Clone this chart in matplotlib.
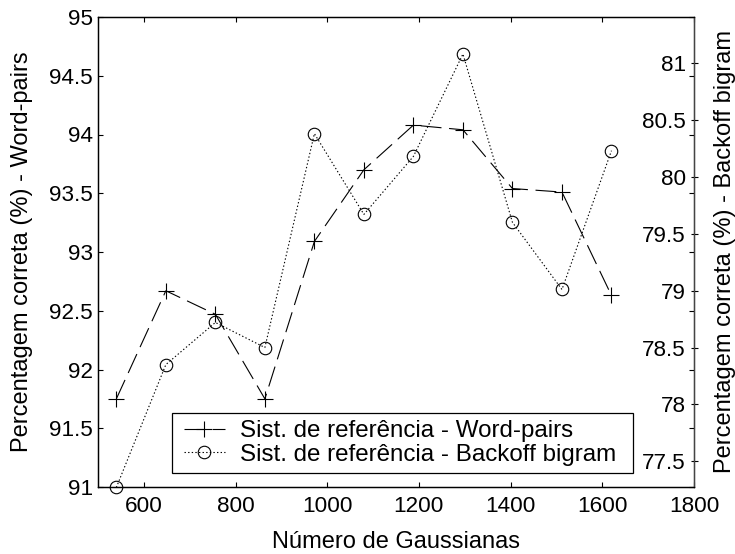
import matplotlib
matplotlib.use("Agg")
import matplotlib.pyplot as plt
from matplotlib.patches import Rectangle

# Number of Gaussians per model
gaussians = [540, 648, 756, 864, 972, 1080, 1188, 1296, 1404, 1512, 1620]
# Word accuracy (%) with the word-pairs grammar
word_pairs = [91.75, 92.67, 92.47, 91.75, 93.09, 93.70, 94.08, 94.04, 93.54, 93.51, 92.63]
# Word accuracy (%) with the backoff bigram model
backoff_bigram = [77.27, 78.35, 78.72, 78.50, 80.38, 79.67, 80.18, 81.08, 79.60, 79.01, 80.23]

x_ticks = [600, 800, 1000, 1200, 1400, 1600, 1800]
left_ticks = [91, 91.5, 92, 92.5, 93, 93.5, 94, 94.5, 95]
left_labels = ['91', '91.5', '92', '92.5', '93', '93.5', '94', '94.5', '95']
right_ticks = [77.5, 78, 78.5, 79, 79.5, 80, 80.5, 81]
right_labels = ['77.5', '78', '78.5', '79', '79.5', '80', '80.5', '81']
legend_labels = ['Sist. de referência - Word-pairs',
                 'Sist. de referência - Backoff bigram']

plt.rcParams['font.family'] = ['Liberation Sans', 'DejaVu Sans']
plt.rcParams['lines.scale_dashes'] = False
TICK_FS = 16.2
LABEL_FS = 17.0
LEG_FS = 17.4

W, H = 735, 554
PX = 72 / 100  # points per pixel at 100 dpi
fig = plt.figure(figsize=(W / 100, H / 100), dpi=100)
fig.patch.set_facecolor('white')

# axes frame in pixels
AX_L, AX_R, AX_T, AX_B = 98, 694, 17, 487
aw, ah = AX_R - AX_L, AX_B - AX_T
ax1 = fig.add_axes([AX_L / W, 1 - AX_B / H, aw / W, ah / H])
ax2 = ax1.twinx()

l1, = ax1.plot(gaussians, word_pairs, color='black', lw=0.8,
               dashes=(15, 5.5), marker='+', ms=12, mew=0.8, clip_on=False)
l2, = ax2.plot(gaussians, backoff_bigram, color='black', lw=0.8,
               dashes=(1.0, 1.6), marker='o', ms=9, mew=0.8, mfc='none',
               clip_on=False)

ax1.set_xlim(500, 1800)
ax1.set_ylim(91, 95)
ax2.set_ylim(77.274, 81.405)

ax1.set_xticks(x_ticks)
ax1.set_xticklabels([str(v) for v in x_ticks], fontsize=TICK_FS)
ax1.set_yticks(left_ticks)
ax1.set_yticklabels(left_labels, fontsize=TICK_FS)
ax2.set_yticks(right_ticks)
ax2.set_yticklabels(right_labels, fontsize=TICK_FS)

ax1.tick_params(axis='both', direction='in', length=5 * PX, width=0.8,
                top=True, right=True, colors='black')
ax1.tick_params(axis='x', pad=9 * PX)
ax1.tick_params(axis='y', pad=5 * PX)
# right-hand scale: labels sit just inside the frame
ax2.tick_params(axis='y', direction='inout', length=7 * PX, width=0.8,
                pad=-(3.5 + 8) * PX)
for lbl in ax2.get_yticklabels():
    lbl.set_horizontalalignment('right')

for ax in (ax1, ax2):
    for s in ax.spines.values():
        s.set_linewidth(0.9)
        s.set_color('black')
ax2.spines['right'].set_color('#444444')

ax1.set_xlabel('Número de Gaussianas', fontsize=LABEL_FS)
ax1.xaxis.set_label_coords(0.5, -(531 - AX_B) / ah)
ax1.set_ylabel('Percentagem correta (%) - Word-pairs', fontsize=LABEL_FS)
ax1.yaxis.set_label_coords((33 - AX_L) / aw, 0.5)
ax2.set_ylabel('Percentagem correta (%) - Backoff bigram', fontsize=LABEL_FS,
               rotation=90)
ax2.yaxis.set_label_coords((714 - AX_L) / aw, 0.5)

# legend entries with a plain rectangular box around them
leg = ax2.legend([l1, l2], legend_labels, loc='center left',
                 bbox_to_anchor=(184 / W, 1 - 443 / H),
                 bbox_transform=fig.transFigure, fontsize=LEG_FS,
                 frameon=False, borderpad=0, borderaxespad=0,
                 labelspacing=0.05, handlelength=41 / 24.2,
                 handletextpad=15 / 24.2)
box = Rectangle((172 / W, 1 - 473 / H), (633 - 172) / W, (473 - 413) / H,
                transform=fig.transFigure, facecolor='white',
                edgecolor='black', lw=0.9, zorder=4)
ax2.add_artist(box)
box.set_clip_on(False)
leg.set_zorder(5)

fig.savefig('out.png', dpi=100, facecolor='white')
